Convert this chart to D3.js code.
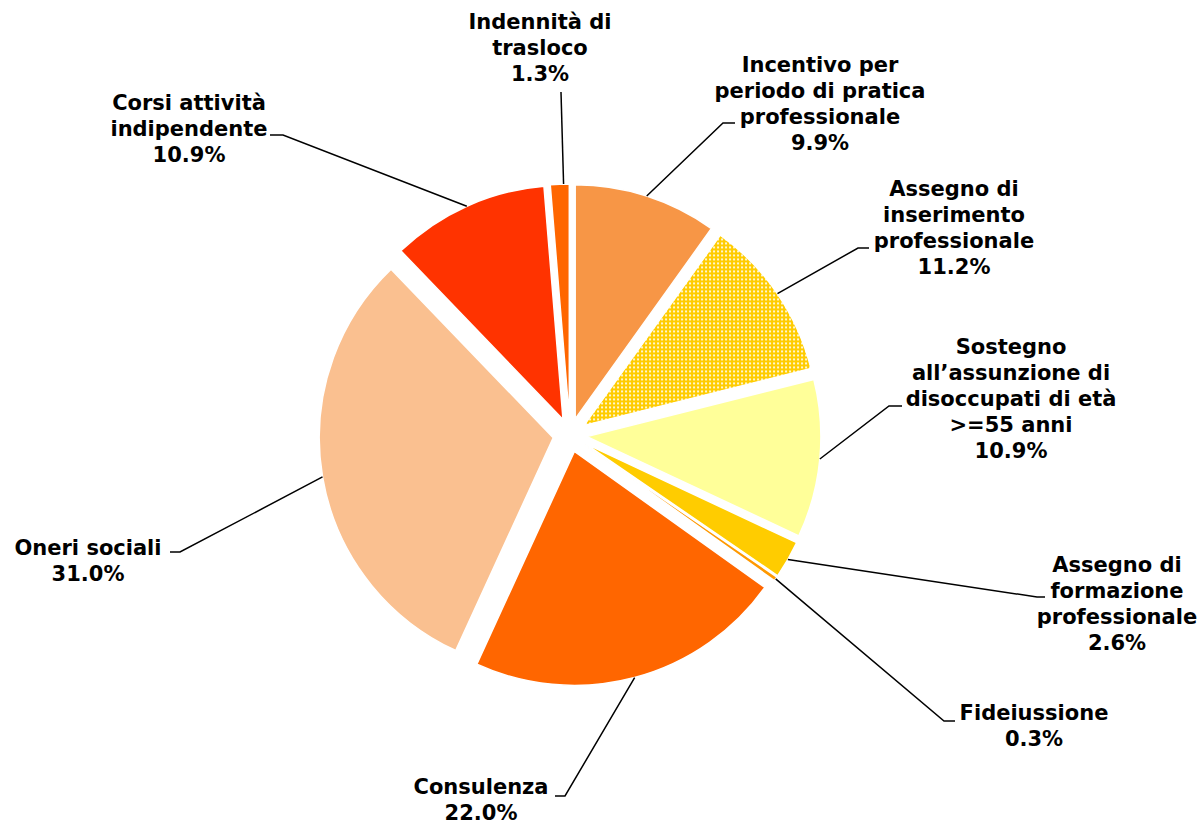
<!DOCTYPE html>
<html>
<head>
<meta charset="utf-8">
<script src="https://cdn.jsdelivr.net/npm/d3@7"></script>
<style>
  body { margin: 0; background: #fff; }
  svg { display: block; }
</style>
</head>
<body>
<div id="chart"></div>
<script>
// slices clockwise from 12 o'clock
const categories = [
  'Incentivo per periodo di pratica professionale',
  'Assegno di inserimento professionale',
  'Sostegno all’assunzione di disoccupati di età >=55 anni',
  'Assegno di formazione professionale',
  'Fideiussione',
  'Consulenza',
  'Oneri sociali',
  'Corsi attività indipendente',
  'Indennità di trasloco'
];
const shares = [9.9, 11.2, 10.9, 2.6, 0.3, 22.0, 31.0, 10.9, 1.3];
const labelLines = [
  ['Incentivo per', 'periodo di pratica', 'professionale'],
  ['Assegno di', 'inserimento', 'professionale'],
  ['Sostegno', 'all’assunzione di', 'disoccupati di età', '>=55 anni'],
  ['Assegno di', 'formazione', 'professionale'],
  ['Fideiussione'],
  ['Consulenza'],
  ['Oneri sociali'],
  ['Corsi attività', 'indipendente'],
  ['Indennità di', 'trasloco']
];
const sliceColors = ['#F79646', 'url(#dots)', '#FFFF99', '#FFCC00', '#FF9900',
                     '#FF6600', '#FAC090', '#FF3300', '#FF6600'];

// label placement: text centre x, first line centre y, leader elbow/end, point on the arc (0..1 of slice)
const labelLayout = [
  { x: 820,  y: 65,  elbow: [723, 123], end: [735, 123], edge: 0.5 },
  { x: 954,  y: 189, elbow: [858, 248], end: [869, 248], edge: 0.5 },
  { x: 1011, y: 347, elbow: [889, 406], end: [902, 406], edge: 0.5 },
  { x: 1117, y: 565, elbow: [1037, 597], end: [1045, 597], edge: 0.5 },
  { x: 1034, y: 713, elbow: [944, 721], end: [955, 721], edge: 0.5 },
  { x: 481,  y: 787, elbow: [565, 796], end: [555, 796], edge: 0.5 },
  { x: 88,   y: 548, elbow: [180, 552], end: [170, 552], edge: 0.5 },
  { x: 189,  y: 103, elbow: [283, 135], end: [270, 135], edge: 0.5 },
  { x: 540,  y: 22,  elbow: [561, 92],  end: [561, 92],  edge: 0.7 }
];

const width = 1203, height = 824;
const cx = 570, cy = 435, radius = 234, explode = 17;
const lineH = 25.8;

const svg = d3.select('#chart').append('svg')
  .attr('width', width).attr('height', height)
  .attr('viewBox', `0 0 ${width} ${height}`);

// dotted fill (yellow with white dots)
const pat = svg.append('defs').append('pattern')
  .attr('id', 'dots')
  .attr('patternUnits', 'userSpaceOnUse')
  .attr('width', 4).attr('height', 4);
pat.append('rect').attr('width', 4).attr('height', 4).attr('fill', '#FFCC00');
pat.append('rect').attr('x', 1).attr('y', 1).attr('width', 2).attr('height', 2).attr('fill', '#FFF6D0');

const pie = d3.pie().value(d => d).sort(null);
const arcs = pie(shares);
const arc = d3.arc().innerRadius(0).outerRadius(radius);

// shift each slice outward along its bisector
function offset(d) {
  const a = (d.startAngle + d.endAngle) / 2;
  return [explode * Math.sin(a), -explode * Math.cos(a)];
}

const g = svg.append('g').attr('transform', `translate(${cx},${cy})`);

g.selectAll('path.slice')
  .data(arcs)
  .join('path')
  .attr('class', 'slice')
  .attr('transform', d => `translate(${offset(d)})`)
  .attr('d', arc)
  .attr('fill', (d, i) => sliceColors[i])
  .attr('stroke', '#fff')
  .attr('stroke-width', 1.5)
  .attr('stroke-linejoin', 'round');

// leader lines
const leaders = svg.append('g');
arcs.forEach((d, i) => {
  const L = labelLayout[i];
  const [ox, oy] = offset(d);
  const a = d.startAngle + (d.endAngle - d.startAngle) * L.edge;
  const p0 = [cx + ox + radius * Math.sin(a), cy + oy - radius * Math.cos(a)];
  leaders.append('path')
    .attr('d', d3.line()([p0, L.elbow, L.end]))
    .attr('fill', 'none')
    .attr('stroke', '#000')
    .attr('stroke-width', 1.5);
});

// labels
const fmt = v => d3.format('.1f')(v) + '%';
const labels = svg.append('g')
  .attr('font-family', '"DejaVu Sans", Verdana, sans-serif')
  .attr('font-weight', 'bold')
  .attr('font-size', 21)
  .attr('fill', '#000')
  .attr('text-anchor', 'middle');

categories.forEach((c, i) => {
  const L = labelLayout[i];
  const lines = labelLines[i].concat(fmt(shares[i]));
  const t = labels.append('text').attr('aria-label', c);
  lines.forEach((ln, k) => {
    t.append('tspan')
      .attr('x', L.x)
      .attr('y', L.y + k * lineH)
      .attr('dy', '0.35em')
      .text(ln);
  });
});
</script>
</body>
</html>
